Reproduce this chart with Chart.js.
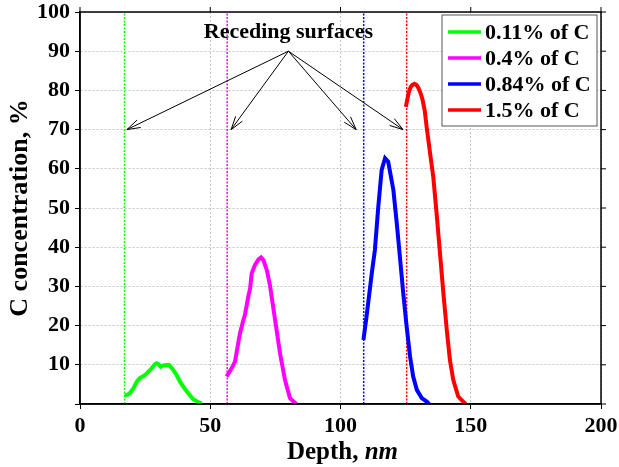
<!DOCTYPE html>
<html>
<head>
<meta charset="utf-8">
<script src="https://cdn.jsdelivr.net/npm/chart.js@4"></script>
<style>
  html, body { margin: 0; padding: 0; background: #fff; }
</style>
</head>
<body>
<canvas id="chart" width="619" height="467"></canvas>
<script>
const SERIF = "'Liberation Serif', 'Times New Roman', serif";

// depth (nm) / concentration (%)
const greenDepth = [17.2, 18.2, 19.2, 20.5, 21.8, 23.0, 24.0, 25.0, 26.2, 27.5, 28.8, 29.5, 30.1, 31.0, 31.8, 32.6, 33.5, 34.3, 35.8, 37.1, 38.4, 39.7, 41.6, 43.5, 45.4, 46.7];
const greenConc  = [2.2, 2.4, 2.8, 4.0, 5.7, 6.6, 7.0, 7.4, 8.2, 9.1, 10.2, 10.4, 10.2, 9.5, 9.8, 9.9, 10.0, 9.9, 8.7, 7.4, 5.7, 4.4, 2.7, 1.2, 0.5, 0.1];

const magentaDepth = [56.3, 58.2, 59.5, 61.4, 62.7, 63.3, 64.6, 65.3, 65.9, 67.2, 68.5, 69.5, 70.4, 71.7, 72.9, 74.9, 76.8, 78.7, 80.6, 82.5, 83.2];
const magentaConc  = [7.0, 9.1, 10.8, 18.0, 21.4, 22.7, 27.4, 29.5, 33.3, 35.5, 36.9, 37.4, 36.7, 34.2, 30.4, 21.4, 12.9, 6.1, 1.5, 0.3, 0.0];

const blueDepth = [108.8, 110.0, 112.0, 113.2, 114.5, 115.8, 117.1, 118.3, 120.3, 121.6, 122.8, 124.1, 125.4, 126.7, 127.9, 129.3, 131.2, 133.1, 134.0];
const blueConc  = [16.3, 22.3, 33.3, 39.3, 50.3, 59.7, 62.7, 61.8, 54.6, 46.1, 37.6, 28.2, 19.7, 12.1, 7.0, 3.6, 1.5, 0.6, 0.0];

const redDepth = [125.1, 125.6, 126.2, 126.9, 127.6, 128.4, 129.2, 130.0, 130.8, 131.5, 132.3, 133.1, 134.4, 135.6, 136.9, 138.2, 139.5, 140.8, 142.0, 143.3, 145.2, 147.1, 148.0];
const redConc  = [75.8, 77.5, 79.5, 80.8, 81.4, 81.7, 81.4, 80.5, 79.2, 77.6, 75.0, 70.5, 63.9, 58.0, 48.6, 38.4, 28.2, 18.9, 11.2, 6.1, 1.9, 0.6, 0.0];

// receding surface positions (nm)
const surfaceDepths = [17.1, 56.5, 108.9, 125.4];

const seriesLabels = ['0.11% of C', '0.4% of C', '0.84% of C', '1.5% of C'];
const seriesColors = ['#00ff00', '#ff00ff', '#0000ff', '#ff0000'];

// annotation: text anchor and arrow tips (data units)
const noteText = 'Receding surfaces';
const noteOrigin = [80, 90];
const noteTipsX = [18, 58, 106, 124];
const noteTipY = 70;

function pts(xs, ys){
    return xs.map((x, i) => ({x: x, y: ys[i]}));
}

const curveData = [pts(greenDepth, greenConc), pts(magentaDepth, magentaConc), pts(blueDepth, blueConc), pts(redDepth, redConc)];

const datasets = [];
for (let i = 0; i < 4; i++){
    datasets.push({
        label: seriesLabels[i],
        data: curveData[i],
        borderColor: seriesColors[i],
        borderWidth: 4,
        pointRadius: 0,
        tension: 0
    });
}
for (let i = 0; i < 4; i++){
    datasets.push({
        label: 'surface ' + i,
        data: [{x: surfaceDepths[i], y: 0}, {x: surfaceDepths[i], y: 100}],
        borderColor: seriesColors[i],
        borderWidth: 1.5,
        borderDash: [2, 1.5],
        pointRadius: 0
    });
}

function arrow(ctx, x1, y1, x2, y2){
    ctx.beginPath();
    ctx.moveTo(x1, y1);
    ctx.lineTo(x2, y2);
    ctx.stroke();
    const a = Math.atan2(y2 - y1, x2 - x1);
    const len = 14, spread = 0.3;
    ctx.beginPath();
    ctx.moveTo(x2 - len * Math.cos(a - spread), y2 - len * Math.sin(a - spread));
    ctx.lineTo(x2, y2);
    ctx.lineTo(x2 - len * Math.cos(a + spread), y2 - len * Math.sin(a + spread));
    ctx.stroke();
}

const extras = {
    id: 'extras',
    afterDraw(chart){
        const ctx = chart.ctx;
        const area = chart.chartArea;
        const xs = chart.scales.x;
        const ys = chart.scales.y;
        ctx.save();

        // frame with outer ticks on top and right
        ctx.strokeStyle = '#000';
        ctx.lineWidth = 1.5;
        ctx.strokeRect(area.left, area.top, area.right - area.left, area.bottom - area.top);
        ctx.lineWidth = 1;
        for (const t of xs.ticks){
            const px = xs.getPixelForValue(t.value);
            ctx.beginPath(); ctx.moveTo(px, area.top); ctx.lineTo(px, area.top - 5); ctx.stroke();
        }
        for (const t of ys.ticks){
            const py = ys.getPixelForValue(t.value);
            ctx.beginPath(); ctx.moveTo(area.right, py); ctx.lineTo(area.right + 5, py); ctx.stroke();
        }

        // annotation
        const ox = xs.getPixelForValue(noteOrigin[0]);
        const oy = ys.getPixelForValue(noteOrigin[1]);
        ctx.fillStyle = '#000';
        ctx.font = 'bold 22px ' + SERIF;
        ctx.textAlign = 'center';
        ctx.textBaseline = 'alphabetic';
        ctx.fillText(noteText, ox, oy - 13);
        ctx.lineWidth = 1;
        for (const tx of noteTipsX){
            arrow(ctx, ox, oy, xs.getPixelForValue(tx), ys.getPixelForValue(noteTipY));
        }

        // legend box
        const lw = 155, lh = 111;
        const lx = area.right - 4 - lw, ly = area.top + 3;
        ctx.fillStyle = '#fff';
        ctx.fillRect(lx, ly, lw, lh);
        ctx.strokeStyle = '#555';
        ctx.lineWidth = 1;
        ctx.strokeRect(lx, ly, lw, lh);
        ctx.font = 'bold 22px ' + SERIF;
        ctx.textAlign = 'left';
        ctx.textBaseline = 'middle';
        for (let i = 0; i < 4; i++){
            const ry = ly + 17 + i * 26;
            ctx.strokeStyle = seriesColors[i];
            ctx.lineWidth = 3.5;
            ctx.beginPath(); ctx.moveTo(lx + 6, ry); ctx.lineTo(lx + 39, ry); ctx.stroke();
            ctx.fillStyle = '#000';
            ctx.fillText(seriesLabels[i], lx + 43, ry + 1);
        }

        // x axis title with italic unit
        const part1 = 'Depth, ', part2 = 'nm';
        ctx.font = 'bold 25px ' + SERIF;
        const w1 = ctx.measureText(part1).width;
        ctx.font = 'italic bold 25px ' + SERIF;
        const w2 = ctx.measureText(part2).width;
        const cx = (area.left + area.right) / 2 + 2;
        const startX = cx - (w1 + w2) / 2;
        ctx.fillStyle = '#000';
        ctx.textBaseline = 'middle';
        ctx.font = 'bold 25px ' + SERIF;
        ctx.fillText(part1, startX, 453);
        ctx.font = 'italic bold 25px ' + SERIF;
        ctx.fillText(part2, startX + w1, 453);

        ctx.restore();
    }
};

new Chart(document.getElementById('chart'), {
    type: 'line',
    data: { datasets: datasets },
    plugins: [extras],
    options: {
        responsive: false,
        animation: false,
        layout: { padding: { top: 12, right: 18, left: 0, bottom: 0 } },
        plugins: {
            legend: { display: false },
            tooltip: { enabled: false }
        },
        scales: {
            x: {
                type: 'linear',
                min: 0,
                max: 200,
                ticks: {
                    stepSize: 50,
                    color: '#000',
                    padding: 6,
                    maxRotation: 0,
                    font: { family: SERIF, size: 22, weight: 'bold', lineHeight: 1 }
                },
                grid: { color: '#c4c4c4', lineWidth: 1, tickColor: '#000', tickLength: 5 },
                border: { color: '#000', width: 1.5, dash: [2, 2] },
                afterFit(scale){
                    scale.height = 63;
                    scale.paddingLeft = 0;
                    scale.paddingRight = 0;
                }
            },
            y: {
                type: 'linear',
                min: 0,
                max: 100,
                ticks: {
                    stepSize: 10,
                    color: '#000',
                    padding: 5,
                    font: { family: SERIF, size: 22, weight: 'bold', lineHeight: 1 },
                    callback: v => v === 0 ? '' : v
                },
                grid: { color: '#c4c4c4', lineWidth: 1, tickColor: '#000', tickLength: 5 },
                border: { color: '#000', width: 1.5, dash: [2, 2] },
                title: {
                    display: true,
                    text: 'C concentration, %',
                    color: '#000',
                    padding: { top: 5, bottom: 0 },
                    font: { family: SERIF, size: 26, weight: 'bold' }
                },
                afterFit(scale){
                    scale.width = 80;
                    scale.paddingTop = 0;
                    scale.paddingBottom = 0;
                }
            }
        }
    }
});
</script>
</body>
</html>
